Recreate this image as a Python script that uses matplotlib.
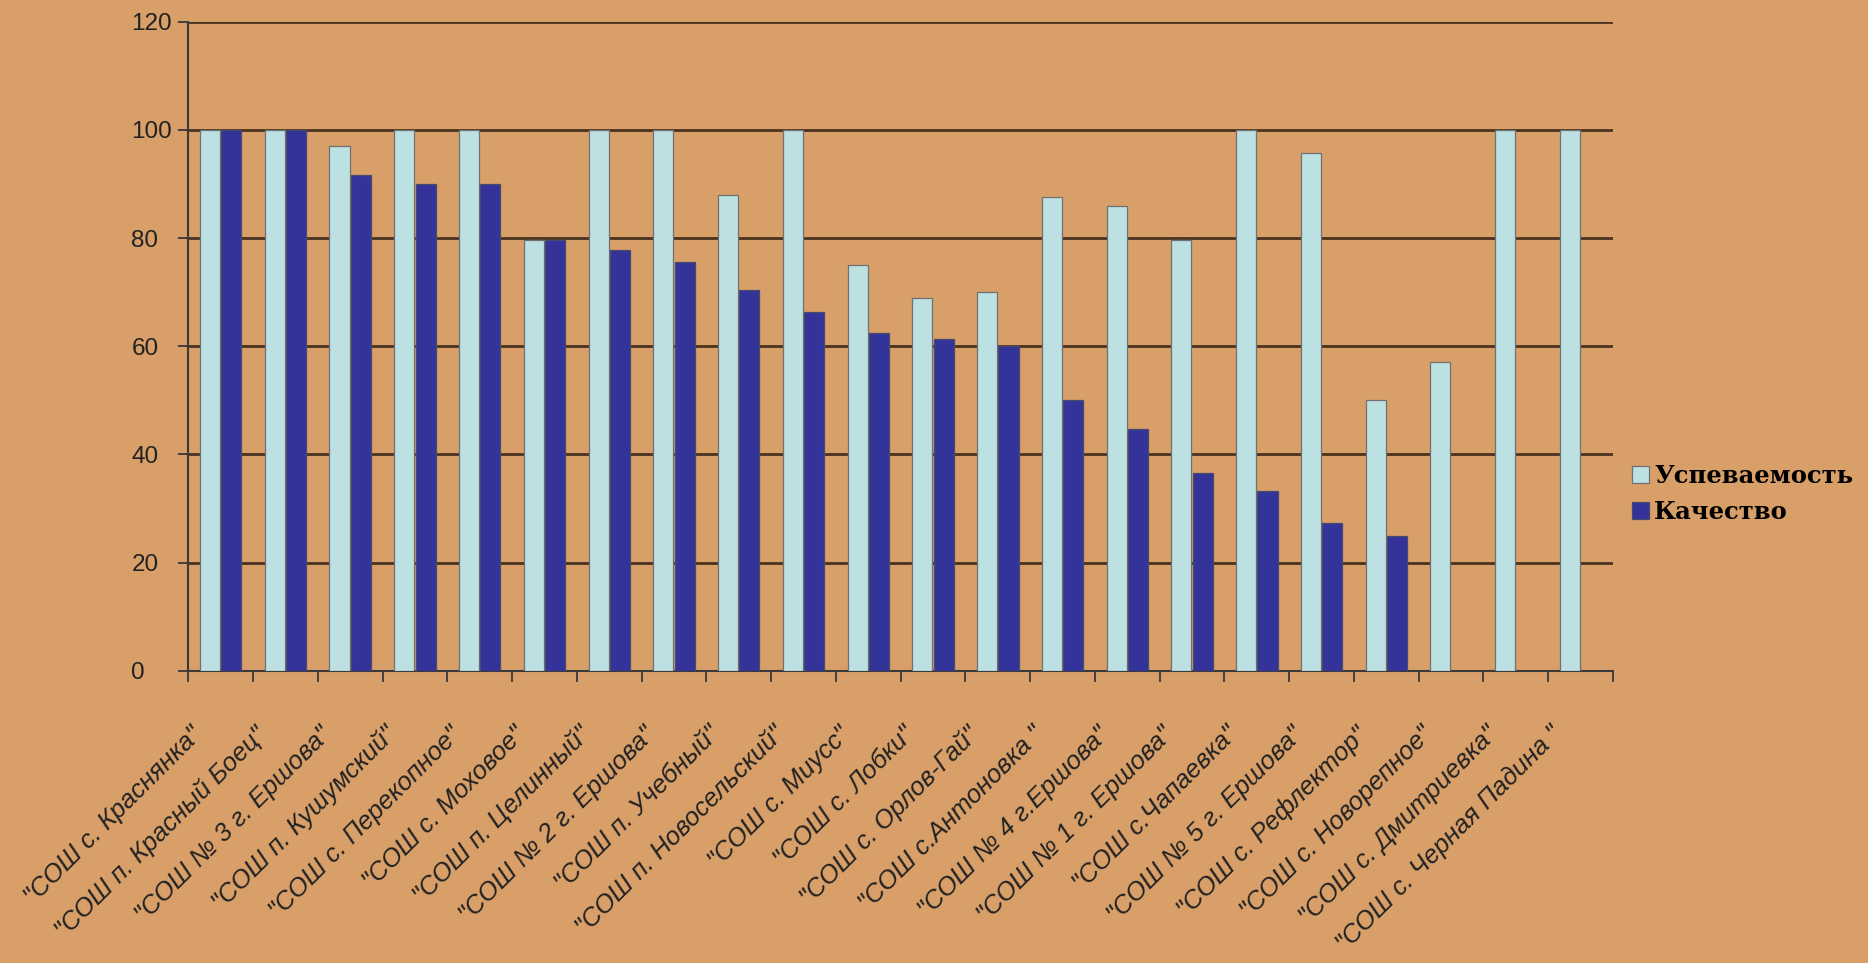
import numpy as np
import matplotlib
matplotlib.use("Agg")
import matplotlib.pyplot as plt
import matplotlib.transforms as mtransforms

plt.rcParams['font.family'] = ['Liberation Sans', 'DejaVu Sans']

# === DATA ===
schools = [
    '"СОШ с. Краснянка"', '"СОШ п. Красный Боец"', '"СОШ № 3 г. Ершова"',
    '"СОШ п. Кушумский"', '"СОШ с. Перекопное"', '"СОШ с. Моховое"',
    '"СОШ п. Целинный"', '"СОШ № 2 г. Ершова"', '"СОШ п. Учебный"',
    '"СОШ п. Новосельский"', '"СОШ с. Миусс"', '"СОШ с. Лобки"',
    '"СОШ с. Орлов-Гай"', '"СОШ с.Антоновка "', '"СОШ № 4 г.Ершова"',
    '"СОШ № 1 г. Ершова"', '"СОШ с.Чапаевка"', '"СОШ № 5 г. Ершова"',
    '"СОШ с. Рефлектор"', '"СОШ с. Новорепное"', '"СОШ с. Дмитриевка"',
    '"СОШ с. Черная Падина "',
]
uspevaemost = [100, 100, 97, 100, 100, 79.6, 100, 100, 88, 100, 75, 69,
               70, 87.5, 86, 79.6, 100, 95.7, 50, 57, 100, 100]
kachestvo = [100, 100, 91.6, 90, 90, 79.6, 77.8, 75.5, 70.3, 66.4, 62.5, 61.3,
             60, 50, 44.6, 36.5, 33.3, 27.3, 25, 0, 0, 0]
series_names = ['Успеваемость', 'Качество']

# === PLOT ===
fig = plt.figure(figsize=(18.68, 9.63), dpi=100, facecolor='#D89F69')
ax = fig.add_axes([0.1008, 0.3035, 0.7627, 0.674])
ax.set_facecolor('none')

x = np.arange(len(schools))
w = 0.31
ax.bar(x - 0.165, uspevaemost, w, color='#BDE1E3', edgecolor='#707070',
       linewidth=0.9, label=series_names[0], zorder=3)
ax.bar(x + 0.165, kachestvo, w, color='#333399', edgecolor='#4a4a70',
       linewidth=0.9, label=series_names[1], zorder=3)

ax.set_xlim(-0.5, len(schools) - 0.5)
ax.set_ylim(0, 120)
ax.set_yticks(range(0, 121, 20))
ax.yaxis.grid(True, color='#4a3320', linewidth=2)
ax.set_axisbelow(True)

for side in ['top', 'right']:
    ax.spines[side].set_visible(False)
for side in ['left', 'bottom']:
    ax.spines[side].set_color('#3a3a3a')
    ax.spines[side].set_linewidth(1.5)

# y ticks: labels left-aligned like the original
ax.tick_params(axis='y', length=7.2, width=1.3, color='#3a3a3a',
               pad=33.8, labelsize=17.5, labelcolor='#222222')
for lbl in ax.get_yticklabels():
    lbl.set_ha('left')

# x ticks: marks at category boundaries, labels rotated
ax.set_xticks(x)
ax.set_xticklabels(schools, rotation=45, ha='right', va='top',
                   rotation_mode='anchor', fontstyle='italic')
ax.set_xticks(np.arange(-0.5, len(schools) + 0.5, 1), minor=True)
ax.tick_params(axis='x', which='major', length=0, pad=36.9,
               labelsize=18.5, labelcolor='#222222')
ax.tick_params(axis='x', which='minor', length=7.9, width=1.3,
               color='#3a3a3a', direction='out')
offset = mtransforms.ScaledTranslation(-0.31, 0, fig.dpi_scale_trans)
for lbl in ax.get_xticklabels():
    lbl.set_transform(lbl.get_transform() + offset)

fig.legend(loc='center left', bbox_to_anchor=(1620 / 1868, 1 - 494 / 963),
           frameon=False, borderpad=0, handlelength=0.7, handleheight=0.7,
           handletextpad=0.2, labelspacing=0.5,
           prop={'family': 'DejaVu Serif', 'weight': 'bold', 'size': 17.5})

fig.savefig('out.png', dpi=100, facecolor=fig.get_facecolor())
